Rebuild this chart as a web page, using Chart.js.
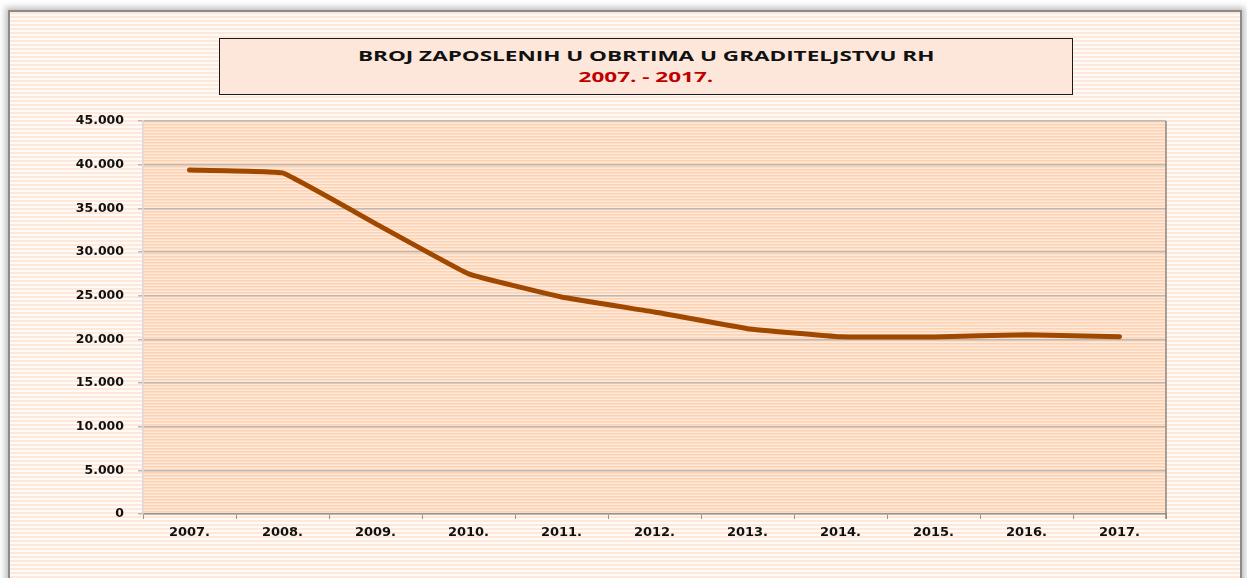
<!DOCTYPE html>
<html>
<head>
<meta charset="utf-8">
<script src="https://cdn.jsdelivr.net/npm/chart.js@4.4.0/dist/chart.umd.min.js"></script>
<style>
  html, body { margin: 0; padding: 0; background: #ffffff; width: 1247px; height: 578px; overflow: hidden; }
  #frame {
    position: absolute; left: 8px; top: 10px; width: 1230px; height: 580px;
    border: 2px solid #8a8a8a; border-bottom: none;
    box-shadow: 0 0 6px 3px rgba(120,120,120,0.45);
    background: repeating-linear-gradient(to bottom, #fde9dc 0px, #fde9dc 2px, #fffaf6 2px, #fffaf6 4px);
  }
  #wrap { position: absolute; left: 0; top: 0; width: 1247px; height: 578px; }
  #titlebox {
    position: absolute; left: 219px; top: 38px; width: 852px; height: 55px;
    border: 1.5px solid #1a1a1a; background: #fce7da;
    font-family: "Open Sans", "Liberation Sans", sans-serif; font-weight: bold;
    text-align: center; font-size: 15px; line-height: 21px;
  }
  #titlebox div { margin: 0; }
  #titlebox span { display: inline-block; transform: scaleX(1.5); transform-origin: center; }
  #titlebox .l1 { color: #111; margin-top: 6px; }
  #titlebox .l2 { color: #c00000; }
</style>
</head>
<body>
<div id="frame"></div>
<div id="wrap"><canvas id="c" width="1247" height="578"></canvas></div>
<div id="titlebox"><div class="l1"><span>BROJ ZAPOSLENIH U OBRTIMA U GRADITELJSTVU RH</span></div><div class="l2"><span>2007. - 2017.</span></div></div>
<script>
const categories = ["2007.", "2008.", "2009.", "2010.", "2011.", "2012.", "2013.", "2014.", "2015.", "2016.", "2017."];
const employed = [39400, 39050, 33250, 27500, 24850, 23130, 21220, 20300, 20270, 20530, 20300];
const yTicks = [0, 5000, 10000, 15000, 20000, 25000, 30000, 35000, 40000, 45000];

function fmt(v) {
  return String(v).replace(/\B(?=(\d{3})+(?!\d))/g, ".");
}

const stripePlugin = {
  id: 'stripes',
  beforeDraw(chart) {
    const { ctx, chartArea: a } = chart;
    ctx.save();
    ctx.fillStyle = '#fee9da';
    ctx.fillRect(a.left, a.top, a.right - a.left, a.bottom - a.top);
    ctx.fillStyle = '#fbd2b2';
    for (let y = a.top; y < a.bottom; y += 3) {
      ctx.fillRect(a.left, y, a.right - a.left, 1.5);
    }
    ctx.restore();
  },
  afterDraw(chart) {
    const { ctx, chartArea: a } = chart;
    ctx.save();
    ctx.strokeStyle = '#8c8680';
    ctx.lineWidth = 1.5;
    ctx.beginPath();
    ctx.moveTo(a.right, a.top);
    ctx.lineTo(a.right, a.bottom + 5);
    ctx.stroke();
    ctx.restore();
  }
};

const yFont = { family: '"DejaVu Sans", Verdana, sans-serif', weight: 'bold', size: 12.5 };
const xFont = { family: '"DejaVu Sans", Verdana, sans-serif', weight: 'bold', size: 13 };

new Chart(document.getElementById('c'), {
  type: 'line',
  data: {
    labels: categories,
    datasets: [{
      data: employed,
      borderColor: '#a04800',
      borderWidth: 5,
      pointRadius: 0,
      tension: 0.08,
      borderCapStyle: 'round',
      borderJoinStyle: 'round',
      fill: false
    }]
  },
  options: {
    responsive: false,
    animation: false,
    layout: { padding: { left: 0, top: 121, right: 81, bottom: 0 } },
    plugins: { legend: { display: false }, tooltip: { enabled: false }, title: { display: false } },
    scales: {
      x: {
        offset: true,
        afterFit(s) { s.height = 64; },
        grid: { offset: true, drawOnChartArea: false, tickLength: 5, color: '#9a948e' },
        border: { color: '#9a948e', width: 1.5 },
        ticks: { color: '#111', padding: 6, font: xFont }
      },
      y: {
        min: 0, max: 45000,
        afterFit(s) { s.width = 143; },
        afterBuildTicks(s) { s.ticks = yTicks.map(v => ({ value: v })); },
        grid: { color: '#bfb7b0', lineWidth: 1.5, tickLength: 5, drawTicks: true },
        border: { color: '#ddd6dd', width: 1.5 },
        ticks: {
          color: '#111', padding: 14,
          font: yFont,
          callback: (v) => fmt(v)
        }
      }
    }
  },
  plugins: [stripePlugin]
});
</script>
</body>
</html>
